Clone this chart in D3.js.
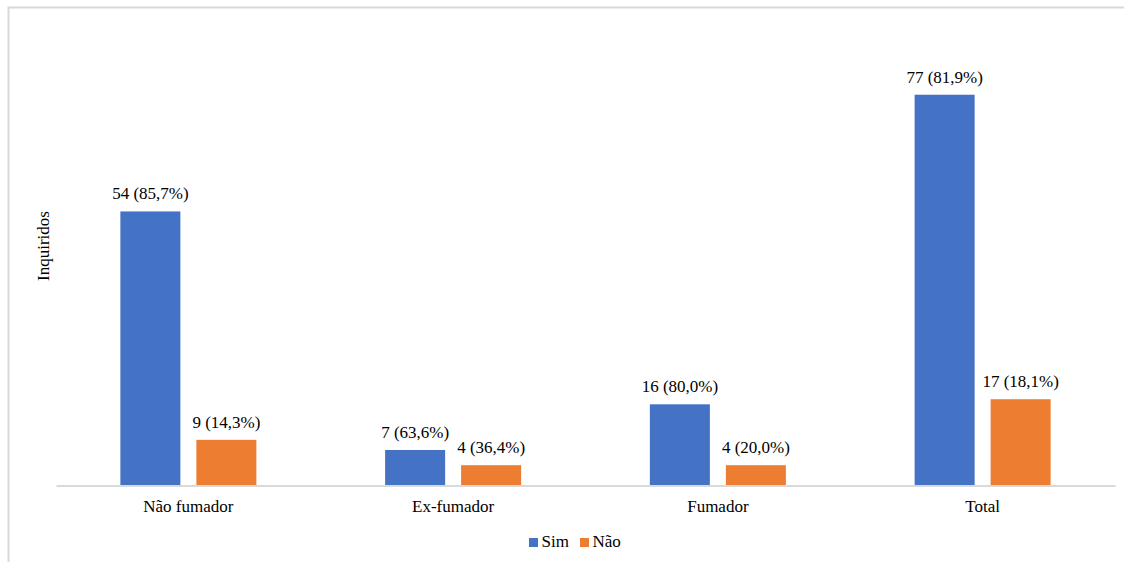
<!DOCTYPE html>
<html>
<head>
<meta charset="utf-8">
<script src="https://cdn.jsdelivr.net/npm/d3@7"></script>
<style>
  html, body { margin: 0; padding: 0; background: #fff; }
  svg { display: block; }
</style>
</head>
<body>
<svg id="chart" width="1124" height="562"></svg>
<script>
// Smoking status groups and answers (counts with shares)
const categories = ["Não fumador", "Ex-fumador", "Fumador", "Total"];
const seriesNames = ["Sim", "Não"];
const simValues = [54, 7, 16, 77];
const naoValues = [9, 4, 4, 17];
const simLabels = ["54 (85,7%)", "7 (63,6%)", "16 (80,0%)", "77 (81,9%)"];
const naoLabels = ["9 (14,3%)", "4 (36,4%)", "4 (20,0%)", "17 (18,1%)"];
const colors = ["#4472C4", "#ED7D31"];

const FONT = "Liberation Serif";
const FS = 17;

const svg = d3.select("#chart");
const W = 1124, H = 562;
const margin = { left: 56, right: 9, top: 80, bottom: 77 };
const plotBottom = H - margin.bottom + 0.5;

// Chart frame (top and left edges visible)
svg.append("path")
  .attr("d", `M8.5,${H} L8.5,7.5 L${W},7.5`)
  .attr("fill", "none")
  .attr("stroke", "#d9d9d9")
  .attr("stroke-width", 2);

const x0 = d3.scaleBand()
  .domain(categories)
  .range([margin.left, W - margin.right])
  .paddingInner(0)
  .paddingOuter(0);

const barW = 60, gap = 16;
const x1 = d3.scaleOrdinal()
  .domain(seriesNames)
  .range([-(gap / 2 + barW), gap / 2]);

const y = d3.scaleLinear()
  .domain([0, 80])
  .range([plotBottom, margin.top - 0.5]);

const rows = categories.map((c, i) => ({
  cat: c,
  vals: [
    { s: "Sim", v: simValues[i], label: simLabels[i], color: colors[0] },
    { s: "Não", v: naoValues[i], label: naoLabels[i], color: colors[1] }
  ]
}));

const groups = svg.selectAll("g.grp")
  .data(rows)
  .join("g")
  .attr("class", "grp")
  .attr("transform", d => `translate(${x0(d.cat) + x0.bandwidth() / 2},0)`);

groups.selectAll("rect")
  .data(d => d.vals)
  .join("rect")
  .attr("x", d => x1(d.s))
  .attr("width", barW)
  .attr("y", d => y(d.v))
  .attr("height", d => y(0) - y(d.v))
  .attr("fill", d => d.color);

groups.selectAll("text.val")
  .data(d => d.vals)
  .join("text")
  .attr("class", "val")
  .attr("x", d => x1(d.s) + barW / 2)
  .attr("y", d => y(d.v) - 12)
  .attr("text-anchor", "middle")
  .attr("font-family", FONT)
  .attr("font-size", FS)
  .attr("fill", "#000")
  .text(d => d.label);

// Category axis
const xAxis = svg.append("g")
  .attr("transform", `translate(0,${plotBottom})`)
  .call(d3.axisBottom(x0).tickSize(0).tickPadding(14));
xAxis.attr("font-family", FONT).attr("font-size", FS);
xAxis.select(".domain").attr("stroke", "#d9d9d9").attr("stroke-width", 2);
xAxis.selectAll("text")
  .attr("font-family", FONT)
  .attr("font-size", FS)
  .attr("fill", "#000");

// Y axis title
svg.append("text")
  .attr("transform", `translate(49,246) rotate(-90)`)
  .attr("text-anchor", "middle")
  .attr("font-family", FONT)
  .attr("font-size", FS)
  .attr("fill", "#000")
  .text("Inquiridos");

// Legend
const legend = svg.append("g").attr("transform", "translate(529,547)");
const legendItems = [
  { name: seriesNames[0], color: colors[0], dx: 0 },
  { name: seriesNames[1], color: colors[1], dx: 51 }
];
const li = legend.selectAll("g").data(legendItems).join("g")
  .attr("transform", d => `translate(${d.dx},0)`);
li.append("rect").attr("x", 0).attr("y", -9).attr("width", 9).attr("height", 9)
  .attr("fill", d => d.color);
li.append("text").attr("x", 12.5).attr("y", 0)
  .attr("font-family", FONT)
  .attr("font-size", FS)
  .attr("fill", "#000")
  .text(d => d.name);
</script>
</body>
</html>
